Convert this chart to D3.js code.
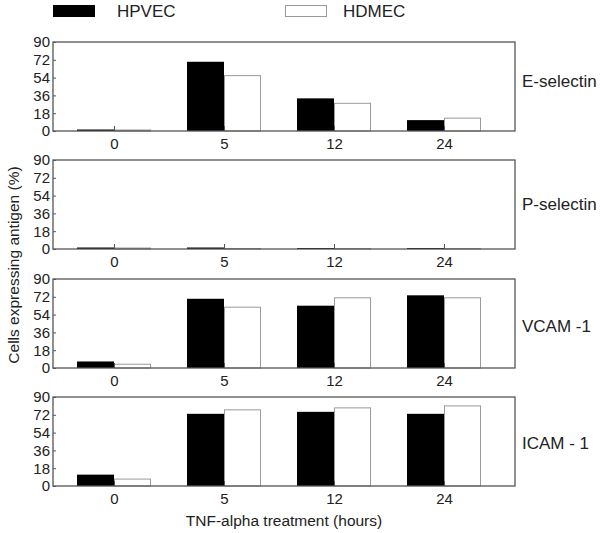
<!DOCTYPE html>
<html>
<head>
<meta charset="utf-8">
<script src="https://cdn.jsdelivr.net/npm/d3@7"></script>
<style>
  body { margin: 0; background: #fff; }
  text { font-family: "Liberation Sans", Arial, sans-serif; fill: #222; }
</style>
</head>
<body>
<div id="chart"></div>
<script>
// time points (hours) and the two cell lines
var hours = ["0", "5", "12", "24"];
var series = ["HPVEC", "HDMEC"];
var antigens = ["E-selectin", "P-selectin", "VCAM -1", "ICAM - 1"];
var yTicks = [0, 18, 36, 54, 72, 90];

// % cells expressing antigen
var eselHPVEC = [1.5, 70, 33, 11];
var eselHDMEC = [1, 56, 28, 13];
var pselHPVEC = [1.5, 1.5, 1, 1];
var pselHDMEC = [1, 0.5, 0.5, 0.5];
var vcamHPVEC = [6.6, 70, 63, 73.5];
var vcamHDMEC = [3.8, 61.5, 71, 71];
var icamHPVEC = [11.5, 73, 75, 73];
var icamHDMEC = [7, 77, 79, 81];

var panels = [
    {name: antigens[0], a: eselHPVEC, b: eselHDMEC},
    {name: antigens[1], a: pselHPVEC, b: pselHDMEC},
    {name: antigens[2], a: vcamHPVEC, b: vcamHDMEC},
    {name: antigens[3], a: icamHPVEC, b: icamHDMEC}
];

var width = 600, height = 533;
var left = 53, right = 515, panelH = 89;
var tops = [42, 160, 279, 397];
var labelOffset = [39, 44, 47, 46];   // name label, from panel top
var barW = 37;

var svg = d3.select("#chart").append("svg")
    .attr("width", width)
    .attr("height", height);

var x = d3.scalePoint().domain(hours).range([114, 444]);
var y = d3.scaleLinear().domain([0, 90]).range([panelH, 0]);

// legend
var legend = svg.append("g");
legend.append("rect").attr("x", 53).attr("y", 5).attr("width", 42).attr("height", 12)
    .attr("fill", "#000");
legend.append("text").attr("x", 117).attr("y", 11.5).attr("dy", "0.35em")
    .style("font-size", "17px").text(series[0]);
legend.append("rect").attr("x", 285.5).attr("y", 5.5).attr("width", 41).attr("height", 11)
    .attr("fill", "#fff").attr("stroke", "#999");
legend.append("text").attr("x", 343).attr("y", 11.5).attr("dy", "0.35em")
    .style("font-size", "17px").text(series[1]);

panels.forEach(function(p, i) {
    var g = svg.append("g").attr("transform", "translate(0," + tops[i] + ")");

    // bars
    g.selectAll("rect.hp")
        .data(p.a)
        .enter()
        .append("rect")
        .attr("class", "hp")
        .attr("x", function(d, j) { return x(hours[j]) - barW; })
        .attr("y", function(d) { return y(d); })
        .attr("width", barW)
        .attr("height", function(d) { return panelH - y(d); })
        .attr("fill", "#000");

    g.selectAll("rect.hd")
        .data(p.b)
        .enter()
        .append("rect")
        .attr("class", "hd")
        .attr("x", function(d, j) { return x(hours[j]) + 0.5; })
        .attr("y", function(d) { return y(d); })
        .attr("width", barW - 1)
        .attr("height", function(d) { return panelH - y(d); })
        .attr("fill", "#fff")
        .attr("stroke", "#9a9a9a")
        .attr("stroke-width", 1);

    // frame
    g.append("rect")
        .attr("x", left).attr("y", 0)
        .attr("width", right - left).attr("height", panelH)
        .attr("fill", "none")
        .attr("stroke", "#555")
        .attr("stroke-width", 1.3);

    var yAxis = g.append("g")
        .attr("transform", "translate(" + left + ",0)")
        .call(d3.axisLeft(y).tickValues(yTicks).tickSizeInner(-3).tickSizeOuter(0).tickPadding(3));
    yAxis.select(".domain").remove();
    yAxis.selectAll("line").attr("stroke", "#555");
    yAxis.selectAll("text").style("font-size", "15px").attr("fill", "#222");

    var xAxis = g.append("g")
        .attr("transform", "translate(0," + panelH + ")")
        .call(d3.axisBottom(x).tickSizeInner(-5).tickSizeOuter(0).tickPadding(7));
    xAxis.select(".domain").remove();
    xAxis.selectAll("line").attr("stroke", "#555");
    xAxis.selectAll("text").style("font-size", "15px").attr("fill", "#222");

    g.append("text")
        .attr("x", 522)
        .attr("y", labelOffset[i])
        .attr("dy", "0.35em")
        .style("font-size", "17px")
        .text(p.name);
});

// axis titles
svg.append("text")
    .attr("transform", "translate(14,265) rotate(-90)")
    .attr("text-anchor", "middle")
    .attr("dy", "0.35em")
    .style("font-size", "15.5px")
    .text("Cells expressing antigen (%)");

svg.append("text")
    .attr("x", (left + right) / 2)
    .attr("y", 521)
    .attr("text-anchor", "middle")
    .attr("dy", "0.35em")
    .style("font-size", "15.5px")
    .text("TNF-alpha treatment (hours)");
</script>
</body>
</html>
